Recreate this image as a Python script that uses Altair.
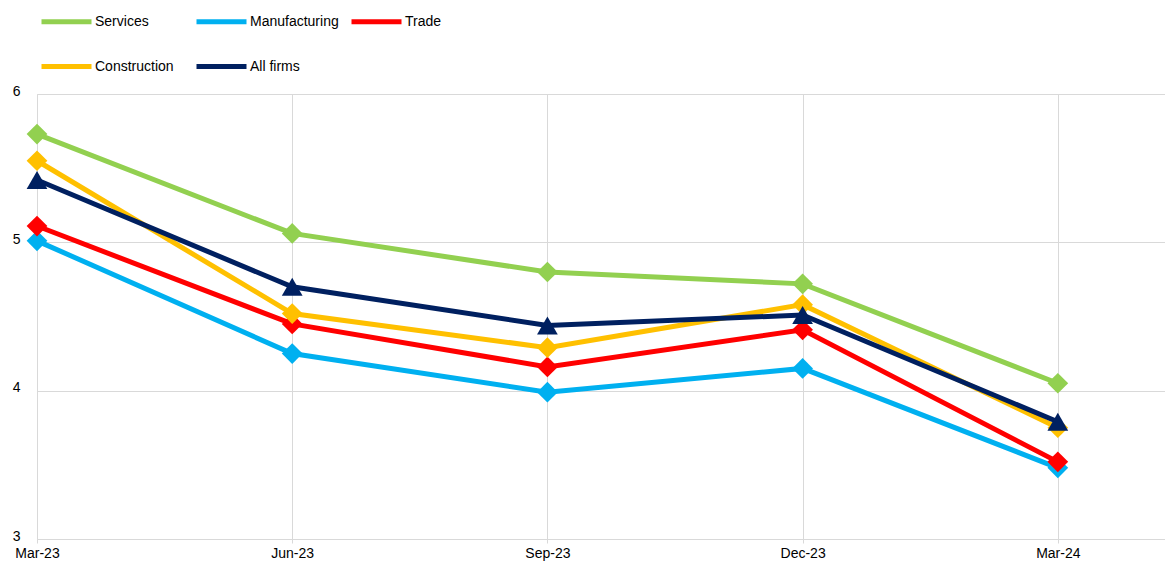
import altair as alt
import pandas as pd

periods = ["Mar-23", "Jun-23", "Sep-23", "Dec-23", "Mar-24"]
series = ["Services", "Manufacturing", "Trade", "Construction", "All firms"]
colors = ["#92D050", "#00B0F0", "#FF0000", "#FFC000", "#002060"]
shapes = ["diamond", "diamond", "diamond", "diamond", "triangle-up"]

services = [5.73, 5.06, 4.80, 4.72, 4.05]
manufacturing = [5.01, 4.25, 3.99, 4.15, 3.48]
trade = [5.11, 4.45, 4.16, 4.41, 3.52]
construction = [5.55, 4.52, 4.29, 4.58, 3.75]
all_firms = [5.42, 4.70, 4.44, 4.51, 3.79]

values = [services, manufacturing, trade, construction, all_firms]

rows = []
for s, vals in zip(series, values):
    for i, (p, v) in enumerate(zip(periods, vals)):
        rows.append({"series": s, "idx": i, "period": p, "value": v})
df = pd.DataFrame(rows)

label_expr = "[" + ",".join(f"'{p}'" for p in periods) + "][datum.value]"

x_enc = alt.X(
    "idx:Q",
    scale=alt.Scale(domain=[0, 4.42], nice=False, zero=False),
    axis=alt.Axis(
        values=[0, 1, 2, 3, 4],
        labelExpr=label_expr,
        labelFlush=False,
        title=None,
        grid=True,
        gridColor="#D9D9D9",
        domain=False,
        ticks=True,
        tickColor="#D9D9D9",
        tickSize=4,
        labelPadding=3,
        labelFontSize=14,
        labelColor="#000000",
        labelFont="Liberation Sans",
    ),
)
y_enc = alt.Y(
    "value:Q",
    scale=alt.Scale(domain=[3, 6], nice=False, zero=False),
    axis=alt.Axis(
        values=[3, 4, 5, 6],
        title=None,
        grid=True,
        gridColor="#D9D9D9",
        domain=False,
        ticks=False,
        labelPadding=17,
        labelOffset=-3,
        labelFontSize=14,
        labelColor="#000000",
        labelFont="Liberation Sans",
    ),
)
color_enc = alt.Color(
    "series:N",
    scale=alt.Scale(domain=series, range=colors),
    legend=alt.Legend(
        title=None,
        orient="none",
        direction="horizontal",
        legendX=2,
        legendY=-100,
        columns=3,
        gridAlign="all",
        columnPadding=2,
        rowPadding=7,
        symbolType="stroke",
        symbolSize=2500,
        symbolStrokeWidth=5,
        labelFontSize=14,
        labelFont="Liberation Sans",
        labelColor="#000000",
        labelOffset=1,
    ),
)

layers = []
for s, shp in zip(series, shapes):
    base = alt.Chart(df).transform_filter(alt.datum.series == s)
    line = base.mark_line(strokeWidth=5).encode(x=x_enc, y=y_enc, color=color_enc)
    pts = base.mark_point(filled=True, opacity=1, size=430, shape=shp).encode(
        x=x_enc, y=y_enc, color=alt.Color("series:N", scale=alt.Scale(domain=series, range=colors), legend=None)
    )
    layers += [line, pts]

chart = alt.layer(*layers).properties(
    width=1128,
    height=445,
    autosize=alt.AutoSizeParams(type="none"),
    padding={"left": 29, "top": 86, "right": 0, "bottom": 24},
).configure_view(stroke=None).configure(background="#FFFFFF")

chart.save("out.html", embed_options={"renderer": "svg", "actions": False})
